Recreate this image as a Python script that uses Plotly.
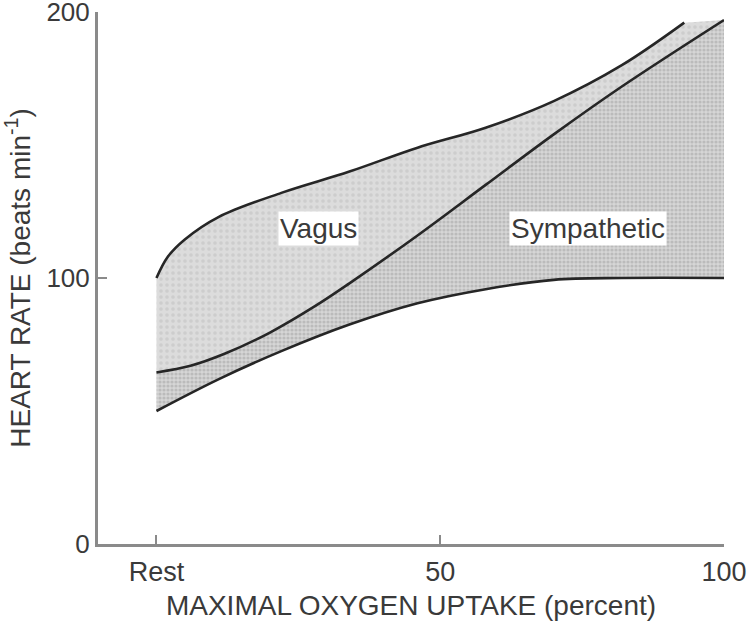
import plotly.graph_objects as go

# ---- data ----
x_upper = [0, 2, 5, 11, 22, 34, 46, 58, 70, 82, 93]
y_upper = [100, 108, 114.5, 123, 132, 140, 149, 156.5, 166.5, 180, 196]

x_mid = [0, 6, 12, 20, 28, 34, 46, 58, 70, 82, 100]
y_mid = [64.5, 67, 71.5, 79.5, 89.5, 98, 116, 135, 154, 172, 197]

x_lower = [0, 11, 22, 34, 46, 58, 70, 82, 100]
y_lower = [50, 62, 72.5, 82.5, 90.5, 95.8, 99.3, 100, 100]

x_ticks = [0, 50, 100]
x_ticklabels = ["Rest", "50", "100"]
y_ticks = [0, 100, 200]

labels = ["Vagus", "Sympathetic"]
label_x = [28.5, 76]
label_y = [118.5, 118.5]

FONT = "Liberation Sans, Arial, sans-serif"
TXT = "#3a3a3a"

fig = go.Figure()

# fills
fig.add_trace(go.Scatter(x=x_lower, y=y_lower, mode="lines", line=dict(width=0, shape="spline"),
                         showlegend=False, hoverinfo="skip"))
fig.add_trace(go.Scatter(x=x_mid, y=y_mid, mode="lines", line=dict(width=0, shape="spline"),
                         fill="tonexty", fillcolor="#c8c8c8",
                         fillpattern=dict(shape=".", size=4, solidity=0.5,
                                          fgcolor="#a0a0a0", bgcolor="#d6d6d6"),
                         showlegend=False, hoverinfo="skip"))
fig.add_trace(go.Scatter(x=x_upper, y=y_upper, mode="lines", line=dict(width=0, shape="spline"),
                         fill="tonexty", fillcolor="#d8d8d8",
                         fillpattern=dict(shape=".", size=6, solidity=0.3,
                                          fgcolor="#bdbdbd", bgcolor="#dcdcdc"),
                         showlegend=False, hoverinfo="skip"))

# outline curves
for xs, ys in [(x_lower, y_lower), (x_mid, y_mid), (x_upper, y_upper)]:
    fig.add_trace(go.Scatter(x=xs, y=ys, mode="lines",
                             line=dict(color="#262626", width=2.6, shape="spline"),
                             showlegend=False, hoverinfo="skip"))

for t, lx, ly in zip(labels, label_x, label_y):
    fig.add_annotation(x=lx, y=ly, text=t, showarrow=False,
                       font=dict(family=FONT, size=28, color=TXT),
                       bgcolor="white", borderpad=1)

fig.update_layout(
    width=756, height=623,
    margin=dict(l=98, r=32, t=12, b=79),
    paper_bgcolor="white", plot_bgcolor="white",
    font=dict(family=FONT, size=27, color=TXT),
    showlegend=False,
)
fig.update_xaxes(range=[-10.3, 100], tickvals=x_ticks, ticktext=x_ticklabels,
                 automargin=False, ticklabeloverflow="allow",
                 tickfont=dict(family=FONT, size=27, color=TXT),
                 showgrid=False, zeroline=False, showline=True, linecolor="#8a8a8a", linewidth=3,
                 ticks="inside", ticklen=9, tickwidth=2, tickcolor="#8a8a8a",
                 ticklabelstandoff=2,
                 title=dict(text="MAXIMAL OXYGEN UPTAKE (percent)", standoff=9,
                            font=dict(family=FONT, size=28, color=TXT)))
fig.update_yaxes(range=[0, 200], tickvals=y_ticks,
                 automargin=False, ticklabeloverflow="allow",
                 tickfont=dict(family=FONT, size=26, color=TXT),
                 showgrid=False, zeroline=False, showline=True, linecolor="#8a8a8a", linewidth=3,
                 ticks="inside", ticklen=9, tickwidth=2, tickcolor="#8a8a8a",
                 ticklabelstandoff=0,
                 title=dict(text="HEART RATE (beats min<sup>-1</sup>)", standoff=24,
                            font=dict(family=FONT, size=28, color=TXT)))

fig.write_html("out.html", config={"displayModeBar": False},
               post_script="document.body.style.margin='0';")
